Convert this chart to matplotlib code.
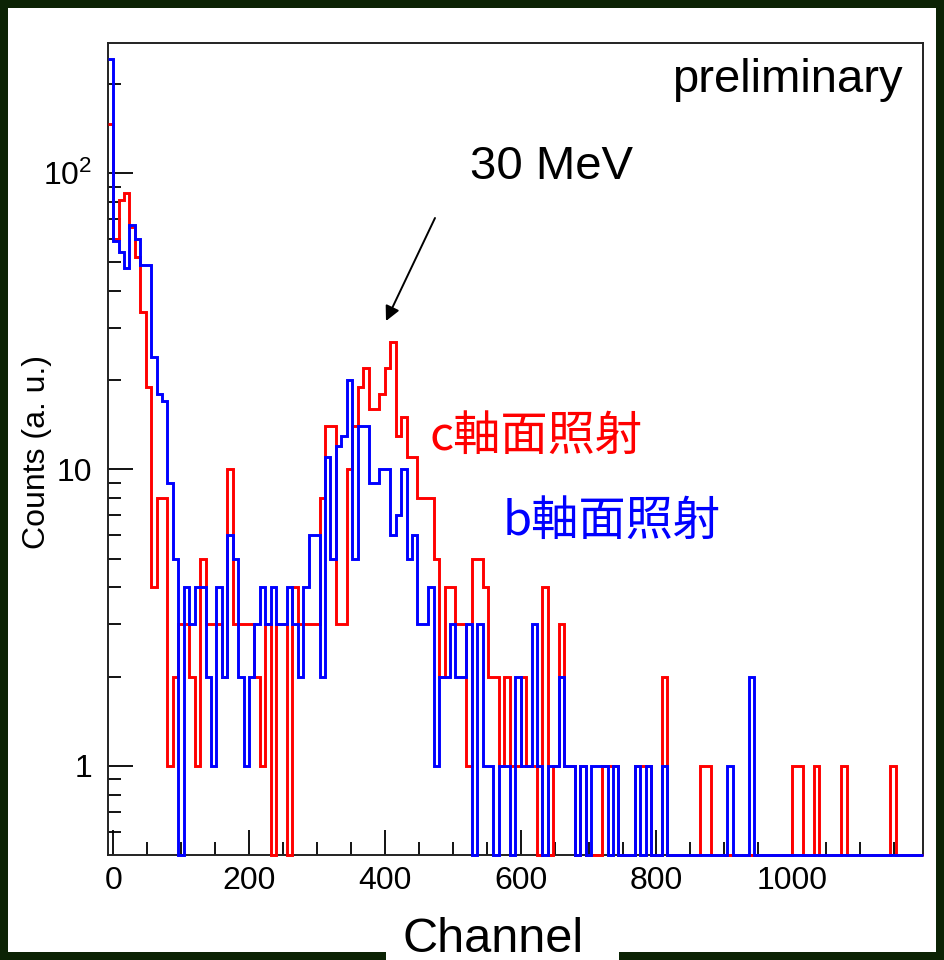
import numpy as np
import matplotlib
matplotlib.use('Agg')
import matplotlib.pyplot as plt
from matplotlib.patches import Rectangle
from matplotlib.ticker import FixedLocator, FixedFormatter, NullFormatter

plt.rcParams['font.family'] = ['Liberation Sans', 'DejaVu Sans']
plt.rcParams['mathtext.fontset'] = 'custom'
plt.rcParams['mathtext.rm'] = 'Liberation Sans'

# histogram binning (channel)
x_min = -8
bin_w = 8
n_bins = 150

# c軸面照射 (red), counts per bin
counts_c = [147, 60, 81, 86, 66, 52, 34, 19, 4, 8,
            8, 1, 2, 3, 3, 2, 1, 5, 3, 3,
            3, 2, 10, 3, 3, 3, 3, 2, 1, 3,
            0, 3, 3, 0, 4, 3, 3, 3, 3, 8,
            14, 14, 3, 3, 10, 14, 19, 22, 16, 16,
            18, 22, 27, 13, 15, 11, 11, 8, 8, 8,
            5, 2, 4, 4, 3, 3, 1, 5, 5, 4,
            2, 2, 1, 2, 1, 1, 2, 1, 1, 0,
            4, 0, 1, 3, 1, 1, 0, 1, 0, 0,
            0, 1, 1, 1, 0, 0, 0, 1, 1, 1,
            0, 0, 2, 0, 0, 0, 0, 0, 0, 1,
            1, 0, 0, 0, 0, 0, 0, 0, 0, 0,
            0, 0, 0, 0, 0, 0, 1, 1, 0, 0,
            1, 0, 0, 0, 0, 1, 0, 0, 0, 0,
            0, 0, 0, 0, 1, 0, 0, 0, 0, 0]

# b軸面照射 (blue), counts per bin
counts_b = [243, 59, 54, 48, 67, 60, 49, 49, 24, 18,
            17, 9, 5, 0, 4, 3, 4, 4, 2, 1,
            4, 2, 6, 5, 2, 1, 2, 3, 4, 3,
            4, 3, 3, 4, 3, 2, 4, 6, 6, 2,
            11, 5, 12, 13, 20, 5, 14, 14, 9, 9,
            10, 10, 6, 7, 10, 5, 6, 3, 3, 4,
            1, 2, 2, 3, 2, 2, 3, 0, 3, 1,
            1, 0, 1, 1, 0, 2, 1, 1, 3, 1,
            0, 1, 1, 2, 1, 1, 0, 1, 0, 1,
            1, 1, 0, 1, 0, 0, 0, 1, 0, 1,
            0, 0, 1, 0, 0, 0, 0, 0, 0, 0,
            0, 0, 0, 0, 1, 0, 0, 0, 2, 0,
            0, 0, 0, 0, 0, 0, 0, 0, 0, 0,
            0, 0, 0, 0, 0, 0, 0, 0, 0, 0,
            0, 0, 0, 0, 0, 0, 0, 0, 0, 0]

x_major = [0, 200, 400, 600, 800, 1000]
y_major = [1, 10, 100]
y_major_labels = ['1', '10', r'$\mathregular{10^{2}}$']
y_minor = [0.6, 0.7, 0.8, 0.9, 2, 3, 4, 5, 6, 7, 8, 9,
           20, 30, 40, 50, 60, 70, 80, 90, 200]

border = '#0c2305'
W, H = 944, 960

edges = x_min + bin_w * np.arange(n_bins + 1)
y_lo = 0.5

fig = plt.figure(figsize=(W / 100, H / 100), dpi=100, facecolor=border)
# white page and the white box behind "Channel"
fig.patches.append(Rectangle((8 / W, 1 - 952 / H), (936 - 8) / W, (952 - 8) / H,
                             transform=fig.transFigure, facecolor='white',
                             edgecolor='none', zorder=-2))
fig.patches.append(Rectangle((386 / W, 0), (619 - 386) / W, 50 / H,
                             transform=fig.transFigure, facecolor='white',
                             edgecolor='none', zorder=-2))

ax = fig.add_axes([107.7 / W, 1 - 855 / H, (922.7 - 107.7) / W, (855 - 43) / H])
ax.set_yscale('log')
ax.set_xlim(x_min, x_min + bin_w * n_bins)
ax.set_ylim(y_lo, 275)

ax.stairs(np.maximum(counts_c, y_lo), edges, baseline=None, color='#ff0000',
          lw=2.1, clip_on=False, zorder=3)
ax.stairs(np.maximum(counts_b, y_lo), edges, baseline=None, color='#0000ff',
          lw=2.1, clip_on=False, zorder=4)

ax.xaxis.set_major_locator(FixedLocator(x_major))
ax.xaxis.set_minor_locator(FixedLocator(np.arange(0, 1200, 50)))
ax.yaxis.set_major_locator(FixedLocator(y_major))
ax.yaxis.set_major_formatter(FixedFormatter(y_major_labels))
ax.yaxis.set_minor_locator(FixedLocator(y_minor))
ax.yaxis.set_minor_formatter(NullFormatter())

ax.tick_params(which='both', direction='in', top=False, right=False,
               width=1.3, color='black', labelsize=23)
ax.tick_params(which='major', length=18)
ax.tick_params(which='minor', length=9.5)
ax.tick_params(axis='x', pad=8)
ax.tick_params(axis='y', pad=11)
for s in ax.spines.values():
    s.set_linewidth(1.4)
    s.set_color('#222222')

fig.text(37 / W, 1 - 452 / H, 'Counts (a. u.)', rotation=90, fontsize=23,
         ha='center', va='center')
fig.text(493 / W, 1 - 952 / H, 'Channel', fontsize=35, ha='center', va='baseline')
fig.text(903 / W, 1 - 92 / H, 'preliminary', fontsize=34, ha='right', va='baseline')
fig.text(552 / W, 1 - 179 / H, '30 MeV', fontsize=34, ha='center', va='baseline')

cjk = ['Noto Sans CJK JP', 'DejaVu Sans']
fig.text(430 / W, 1 - 450 / H, 'c軸面照射', fontsize=34, color='#ff0000',
         family=cjk, ha='left', va='baseline')
fig.text(503 / W, 1 - 535 / H, 'b軸面照射', fontsize=34, color='#0000ff',
         family=cjk, ha='left', va='baseline')

ax.annotate('', xy=(386, H - 321), xycoords='figure pixels',
            xytext=(435, H - 218), textcoords='figure pixels',
            arrowprops=dict(arrowstyle='-|>', color='black', lw=1.4,
                            mutation_scale=22, shrinkA=0, shrinkB=0))

fig.savefig('out.png', dpi=100, facecolor=border)
